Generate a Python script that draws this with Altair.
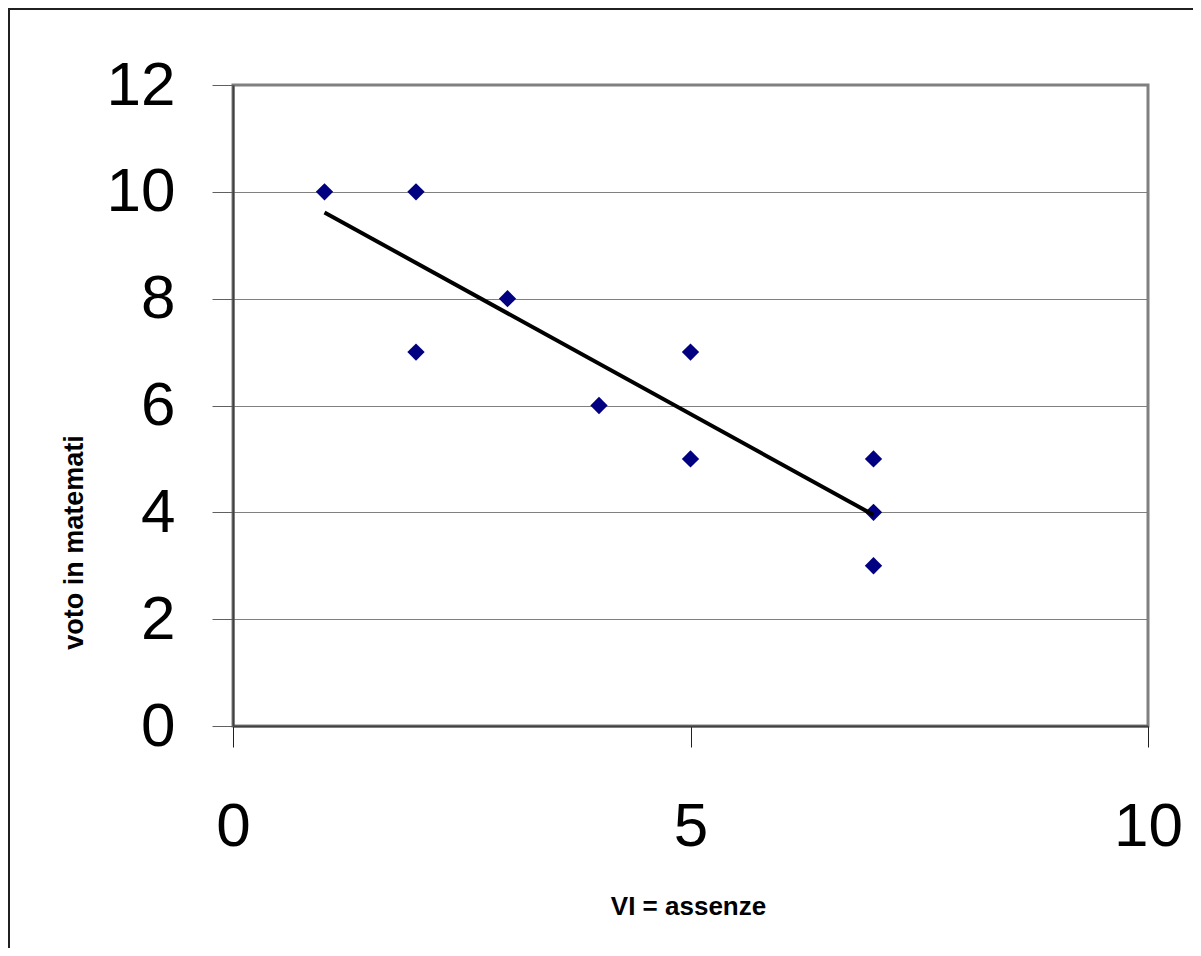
import altair as alt
import pandas as pd

# data
assenze = [1, 2, 2, 3, 4, 5, 5, 7, 7, 7]
voto = [10, 10, 7, 8, 6, 7, 5, 5, 4, 3]
x_ticks = [0, 5, 10]
y_ticks = [0, 2, 4, 6, 8, 10, 12]

df = pd.DataFrame({"assenze": assenze, "voto": voto})

PLOT_W, PLOT_H = 915, 641
PAD_L, PAD_T, PAD_R, PAD_B = 225, 77, 45, 222

FONT = "Liberation Sans"

x_enc = alt.X(
    "assenze:Q",
    scale=alt.Scale(domain=[0, 10], nice=False, zero=False),
    axis=alt.Axis(
        values=x_ticks,
        format="d",
        title="VI = assenze",
        grid=False,
        domainColor="#404040",
        domainWidth=2,
        tickColor="#202020",
        tickWidth=1,
        tickSize=21,
        labelFont=FONT,
        labelFontSize=62,
        labelColor="black",
        labelPadding=49,
        labelFlush=False,
        labelOverlap=False,
        titleFont=FONT,
        titleFontSize=26,
        titleFontWeight="bold",
        titleColor="black",
        titleX=455,
        titleY=180,
        titleAlign="center",
        titleBaseline="middle",
    ),
)

y_enc = alt.Y(
    "voto:Q",
    scale=alt.Scale(domain=[0, 12], nice=False, zero=False),
    axis=alt.Axis(
        values=y_ticks,
        format="d",
        title="voto in matemati",
        grid=True,
        gridColor="#808080",
        gridWidth=1,
        domainColor="#404040",
        domainWidth=2,
        tickColor="#606060",
        tickWidth=1,
        tickSize=21,
        labelFont=FONT,
        labelFontSize=62,
        labelColor="black",
        labelPadding=37,
        labelFlush=False,
        labelOverlap=False,
        titleFont=FONT,
        titleFontSize=27,
        titleFontWeight="bold",
        titleColor="black",
        titleAngle=270,
        titleX=-159,
        titleY=457,
        titleAlign="center",
        titleBaseline="middle",
    ),
)

points = alt.Chart(df).mark_point(
    shape="diamond", filled=True, color="#000080", size=300, opacity=1
).encode(x=x_enc, y=y_enc)

trend = (
    alt.Chart(df)
    .transform_regression("assenze", "voto")
    .mark_line(color="black", strokeWidth=4)
    .encode(x="assenze:Q", y="voto:Q")
)

frame_left = alt.Chart(df).mark_rule(color="#202020", strokeWidth=2).encode(
    x=alt.value(-PAD_L + 1), y=alt.value(-PAD_T), y2=alt.value(PLOT_H + PAD_B)
)
frame_top = alt.Chart(df).mark_rule(color="#202020", strokeWidth=2).encode(
    y=alt.value(-PAD_T + 1), x=alt.value(-PAD_L), x2=alt.value(PLOT_W + PAD_R)
)

chart = (
    alt.layer(points, trend, frame_left, frame_top)
    .properties(
        width=PLOT_W,
        height=PLOT_H,
        autosize=alt.AutoSizeParams(type="none"),
        padding={"left": PAD_L, "top": PAD_T, "right": PAD_R, "bottom": PAD_B},
        background="white",
    )
    .configure_view(stroke="#808080", strokeWidth=3)
)

chart.save("out.html", embed_options={"renderer": "svg", "actions": False})
